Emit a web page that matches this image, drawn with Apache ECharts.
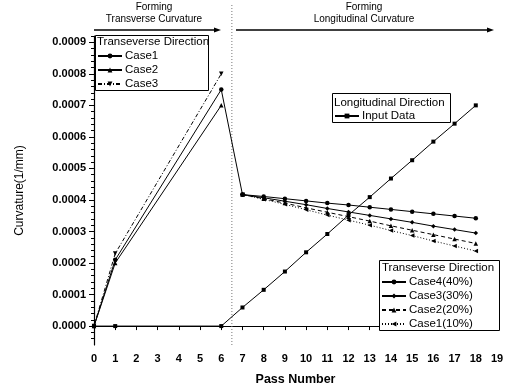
<!DOCTYPE html>
<html><head><meta charset="utf-8">
<script src="https://cdn.jsdelivr.net/npm/echarts@6/dist/echarts.min.js"></script>
<style>html,body{margin:0;padding:0;background:#fff}#c{width:512px;height:391px}</style>
</head><body><div id="c"></div>
<script>
// ---- data ----
const transPassesC1 = [0, 1, 6, 7];
const transCase1 = [0, 0.00021, 0.00075, 0.000417];
const transPasses = [0, 1, 6];
const transCase2 = [0, 0.00020, 0.00070];
const transCase3 = [0, 0.00023, 0.00080];
const inputPasses = [0, 1, 6, 7, 8, 9, 10, 11, 12, 13, 14, 15, 16, 17, 18];
const inputData = [0, 0, 0, 0.000059, 0.000115, 0.000173, 0.000234, 0.000292, 0.000352, 0.000409, 0.000468, 0.000526, 0.000585, 0.000642, 0.000700];
const longPasses = [7, 8, 9, 10, 11, 12, 13, 14, 15, 16, 17, 18];
const longCase4 = [0.000417, 0.000411, 0.000404, 0.000397, 0.000390, 0.000384, 0.000377, 0.000370, 0.000363, 0.000356, 0.000349, 0.000342];
const longCase3 = [0.000417, 0.000407, 0.000396, 0.000385, 0.000373, 0.000362, 0.000351, 0.000340, 0.000329, 0.000317, 0.000306, 0.000295];
const longCase2 = [0.000417, 0.000404, 0.000390, 0.000375, 0.000361, 0.000347, 0.000333, 0.000318, 0.000304, 0.000290, 0.000276, 0.000262];
const longCase1 = [0.000417, 0.000402, 0.000386, 0.000369, 0.000352, 0.000336, 0.000320, 0.000303, 0.000287, 0.000270, 0.000254, 0.000238];
const yTicks = [0, 0.0001, 0.0002, 0.0003, 0.0004, 0.0005, 0.0006, 0.0007, 0.0008, 0.0009];
const yMinorTicks = [-0.00004, -0.00002, 0.00002, 0.00004, 0.00006, 0.00008, 0.00012, 0.00014, 0.00016, 0.00018,
  0.00022, 0.00024, 0.00026, 0.00028, 0.00032, 0.00034, 0.00036, 0.00038, 0.00042, 0.00044, 0.00046, 0.00048,
  0.00052, 0.00054, 0.00056, 0.00058, 0.00062, 0.00064, 0.00066, 0.00068, 0.00072, 0.00074, 0.00076, 0.00078,
  0.00082, 0.00084, 0.00086, 0.00088, 0.00092];

const zip = (xs, ys) => xs.map((x, i) => [x, ys[i]]);
const FONT = 'Liberation Sans, Arial, sans-serif';
const BLACK = '#000';

function ser(name, xs, ys, symbol, lineType, extra) {
  return Object.assign({
    name: name, type: 'line', data: zip(xs, ys), symbol: symbol, symbolSize: 4.5,
    lineStyle: { color: BLACK, width: 1, type: lineType },
    itemStyle: { color: BLACK }, animation: false, z: 2
  }, extra || {});
}

const chart = echarts.init(document.getElementById('c'), null, { renderer: 'canvas' });
const legendCommon = {
  orient: 'vertical', padding: 0, itemWidth: 24, itemHeight: 6, itemGap: 2, itemStyle: { color: BLACK },
  textStyle: { fontSize: 11.5, color: BLACK, fontFamily: FONT, padding: [0, 0, 0, -2] }, selectedMode: false
};
chart.setOption({
  animation: false,
  grid: { left: 94, right: 15, top: 36, bottom: 44, containLabel: false },
  xAxis: {
    type: 'value', min: 0, max: 19, interval: 1,
    name: 'Pass Number', nameLocation: 'middle', nameGap: 28,
    nameTextStyle: { fontSize: 12.5, fontWeight: 'bold', color: BLACK, fontFamily: FONT },
    axisLine: { lineStyle: { color: BLACK, width: 1.2 } },
    axisTick: { length: 4, lineStyle: { color: BLACK } },
    axisLabel: { fontSize: 11, fontWeight: 'bold', color: BLACK, fontFamily: FONT, margin: 8 },
    splitLine: { show: false }
  },
  yAxis: [{
    type: 'value', min: -0.00006, max: 0.00092,
    name: 'Curvature(1/mm)', nameLocation: 'middle', nameGap: 68,
    nameTextStyle: { fontSize: 12, color: BLACK, fontFamily: FONT },
    axisLine: { show: true, lineStyle: { color: BLACK, width: 1.2 } },
    axisTick: { show: true, length: 5, customValues: yTicks, lineStyle: { color: BLACK } },
    axisLabel: { customValues: yTicks, formatter: v => v.toFixed(4), fontSize: 11, fontWeight: 'bold', color: BLACK, fontFamily: FONT, margin: 8 },
    splitLine: { show: false }
  }, {
    type: 'value', min: -0.00006, max: 0.00092, position: 'left',
    axisLine: { show: false },
    axisTick: { show: true, length: 3, customValues: yMinorTicks, lineStyle: { color: BLACK } },
    axisLabel: { show: false }, splitLine: { show: false }
  }],
  legend: [
    Object.assign({}, legendCommon, { data: ['Case1', 'Case2', 'Case3'], left: 97, top: 50 }),
    Object.assign({}, legendCommon, { data: ['Input Data'], left: 334, top: 110 }),
    Object.assign({}, legendCommon, { data: ['Case4(40%)', 'Case3(30%)', 'Case2(20%)', 'Case1(10%)'], left: 381, top: 276 })
  ],
  series: [
    ser('Case1', transPassesC1, transCase1, 'circle', 'solid'),
    ser('Case2', transPasses, transCase2, 'triangle', 'solid'),
    ser('Case3', transPasses, transCase3, 'triangle', [4, 2, 1, 2], { symbolRotate: 180 }),
    ser('Input Data', inputPasses, inputData, 'rect', 'solid', { symbolSize: 4 }),
    ser('Case4(40%)', longPasses, longCase4, 'circle', 'solid'),
    ser('Case3(30%)', longPasses, longCase3, 'diamond', 'solid'),
    ser('Case2(20%)', longPasses, longCase2, 'triangle', [4, 3]),
    ser('Case1(10%)', longPasses, longCase1, 'triangle', [1, 2], { symbolRotate: 90 })
  ]
});

const xDiv = chart.convertToPixel({ xAxisIndex: 0 }, 6.5);
const yBot = chart.convertToPixel({ yAxisIndex: 0 }, -0.00006);
const headFont = '10px ' + FONT;
function arrow(x1, x2, y) {
  return [
    { type: 'line', shape: { x1: x1, y1: y, x2: x2 - 5, y2: y }, style: { stroke: BLACK, lineWidth: 1.3 } },
    { type: 'polygon', shape: { points: [[x2, y], [x2 - 7, y - 2.5], [x2 - 7, y + 2.5]] }, style: { fill: BLACK } }
  ];
}
const txt = (t, x, y, font, align) => ({ type: 'text', x: x, y: y, style: { text: t, font: font, fill: BLACK, align: align || 'left', verticalAlign: 'middle' }, z: 6 });
chart.setOption({
  graphic: [
    { type: 'line', shape: { x1: xDiv, y1: 5, x2: xDiv, y2: yBot }, style: { stroke: '#777', lineWidth: 1, lineDash: [1, 2] }, z: 1 },
    ...arrow(94, 221, 30),
    ...arrow(236, 494, 30),
    txt('Forming', 154, 7, headFont, 'center'),
    txt('Transverse Curvature', 154, 19, headFont, 'center'),
    txt('Forming', 364, 7, headFont, 'center'),
    txt('Longitudinal Curvature', 364, 19, headFont, 'center'),
    { type: 'rect', shape: { x: 95.5, y: 35.5, width: 113, height: 55 }, style: { stroke: BLACK, fill: '#fff', lineWidth: 1 }, z: 3 },
    txt('Transeverse Direction', 97, 42, '11.5px ' + FONT),
    { type: 'rect', shape: { x: 332.5, y: 93.5, width: 118, height: 29 }, style: { stroke: BLACK, fill: '#fff', lineWidth: 1 }, z: 3 },
    txt('Longitudinal Direction', 334, 103, '11.5px ' + FONT),
    { type: 'rect', shape: { x: 379.5, y: 260.5, width: 120, height: 70 }, style: { stroke: BLACK, fill: '#fff', lineWidth: 1 }, z: 3 },
    txt('Transeverse Direction', 382, 268, '11.5px ' + FONT)
  ]
});
</script></body></html>
